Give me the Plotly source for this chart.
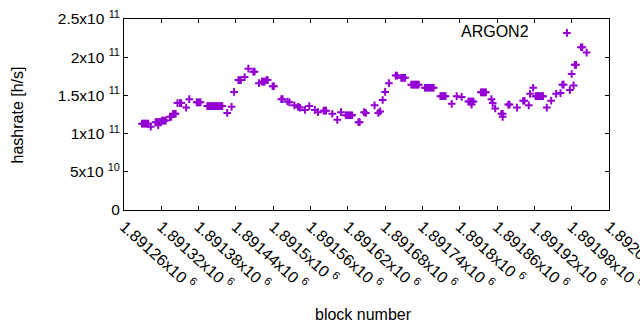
import plotly.graph_objects as go

# ---- data (block number offset from 1,891,000 ; hashrate in units of 1e9 h/s) ----
BLOCK_BASE = 1891000
block_offset = [
    289, 291, 293, 295, 297, 299, 303,
    311, 313, 315, 317, 319, 315, 321, 323, 325, 327,
    334, 336, 339, 341, 343, 346, 350, 352, 360, 365,
    377, 379, 381, 383,
    394, 396, 398, 400, 402, 404, 406, 408, 410, 412, 414, 416, 418,
    426, 433, 437, 444, 446, 448, 454, 460, 468, 470, 477,
    482, 484, 486, 489, 491, 499, 501, 513, 515, 523, 526, 534, 540, 543,
    551, 558, 567, 572, 581, 583, 585, 595, 603, 609,
    617, 619, 621, 623, 625, 627, 637, 639, 646, 649, 663, 669, 672, 676, 680,
    686, 697, 699, 706, 708, 710, 712,
    722, 724, 726, 728, 730, 732, 734,
    744, 746, 748, 750, 752, 754, 756, 758,
    769, 771, 773, 775, 777, 787, 795, 803,
    814, 816, 818, 820, 822, 819,
    834, 836, 838, 840, 842, 851, 853, 857, 867, 869, 869,
    878, 880, 892, 902, 904, 911, 913, 918,
    922, 924, 926, 928, 930, 932, 934,
    940, 947, 955, 962, 965, 967, 977, 980, 983, 985, 987, 995, 997, 1004,
]
hashrate_g = [
    113, 113, 113, 113, 113, 113, 109,
    115, 115, 115, 115, 115, 111, 117, 117, 117, 117,
    122, 122, 126, 126, 126, 140, 140, 140, 134, 145,
    141, 141, 141, 141,
    136, 136, 136, 136, 136, 136, 136, 136, 136, 136, 136, 136, 136,
    127, 135, 154.5, 170, 170, 170, 174, 185, 181, 181, 166,
    168, 168, 168, 170, 170, 162, 162, 145, 145, 142, 141, 137, 135, 134,
    131, 136, 131, 128, 130, 130, 130, 126, 118, 128,
    124, 124, 124, 124, 124, 124, 115, 115, 128, 127, 137, 127, 129, 144, 154.5,
    166, 176, 176, 173, 173, 173, 173,
    164, 164, 164, 164, 164, 164, 164,
    160, 160, 160, 160, 160, 160, 160, 160,
    149, 149, 149, 149, 149, 139, 149, 148,
    142, 142, 142, 142, 142, 138,
    154, 154, 154, 154, 154, 145, 140, 133, 126, 126, 122,
    138, 138, 134, 143, 143, 137, 152, 160,
    149, 149, 149, 149, 149, 149, 149,
    134, 143, 152, 153, 164, 164, 157, 178, 163, 190, 190, 213, 213, 206,
]
series_name = "ARGON2"

x_tickvals = [1891260, 1891320, 1891380, 1891440, 1891500, 1891560, 1891620,
              1891680, 1891740, 1891800, 1891860, 1891920, 1891980, 1892040]
x_ticktext = ["1.89126x10 <sup>6</sup>", "1.89132x10 <sup>6</sup>", "1.89138x10 <sup>6</sup>",
              "1.89144x10 <sup>6</sup>", "1.8915x10 <sup>6</sup>", "1.89156x10 <sup>6</sup>",
              "1.89162x10 <sup>6</sup>", "1.89168x10 <sup>6</sup>", "1.89174x10 <sup>6</sup>",
              "1.8918x10 <sup>6</sup>", "1.89186x10 <sup>6</sup>", "1.89192x10 <sup>6</sup>",
              "1.89198x10 <sup>6</sup>", "1.89204x10 <sup>6</sup>"]
y_tickvals = [0, 5e10, 1e11, 1.5e11, 2e11, 2.5e11]
y_ticktext = ["0", "5x10 <sup>10</sup>", "1x10 <sup>11</sup>", "1.5x10 <sup>11</sup>",
              "2x10 <sup>11</sup>", "2.5x10 <sup>11</sup>"]

blocks = [BLOCK_BASE + o for o in block_offset]
hashrate = [v * 1e9 for v in hashrate_g]

COLOR = "#9400D3"
FONT = "Liberation Sans, Arial, sans-serif"

fig = go.Figure()
fig.add_trace(go.Scatter(
    x=blocks, y=hashrate, mode="markers", name="",
    marker=dict(symbol="cross-thin", size=5.5, color=COLOR,
                line=dict(width=2, color=COLOR)),
    showlegend=True,
))

axis_common = dict(showline=True, linecolor="black", linewidth=1, mirror="ticks",
                   ticks="inside", ticklen=4, tickcolor="black", tickwidth=1,
                   showgrid=False, zeroline=False, ticklabeloverflow="allow")

fig.update_layout(
    width=640, height=330,
    margin=dict(l=124, r=31, t=19, b=120, autoexpand=False),
    paper_bgcolor="white", plot_bgcolor="white",
    font=dict(family=FONT, size=16, color="black"),
    xaxis=dict(range=[1891260, 1892040], tickvals=x_tickvals, ticktext=x_ticktext,
               tickangle=42, tickfont=dict(family=FONT, size=16, color="black"),
               **axis_common),
    yaxis=dict(range=[0, 2.5e11], tickvals=y_tickvals, ticktext=y_ticktext,
               tickfont=dict(family=FONT, size=15.5, color="black"),
               **axis_common),
    legend=dict(x=0.872, y=0.9267, xanchor="left", yanchor="middle",
                bgcolor="rgba(0,0,0,0)", borderwidth=0,
                font=dict(family=FONT, size=16)),
    annotations=[
        dict(text=series_name, xref="paper", yref="paper", x=0.8392, y=0.9356,
             xanchor="right", yanchor="middle", showarrow=False,
             font=dict(family=FONT, size=16, color="black")),
        dict(text="hashrate [h/s]", xref="paper", yref="paper", x=-0.2186, y=0.5,
             xanchor="center", yanchor="middle", textangle=-90, showarrow=False,
             font=dict(family=FONT, size=16, color="black")),
        dict(text="block number", xref="paper", yref="paper", x=0.4948, y=-0.5497,
             xanchor="center", yanchor="middle", showarrow=False,
             font=dict(family=FONT, size=16, color="black")),
    ],
)

fig.write_html("out.html", config={"displayModeBar": False},
               post_script="document.body.style.margin='0px';document.body.style.overflow='hidden';")
